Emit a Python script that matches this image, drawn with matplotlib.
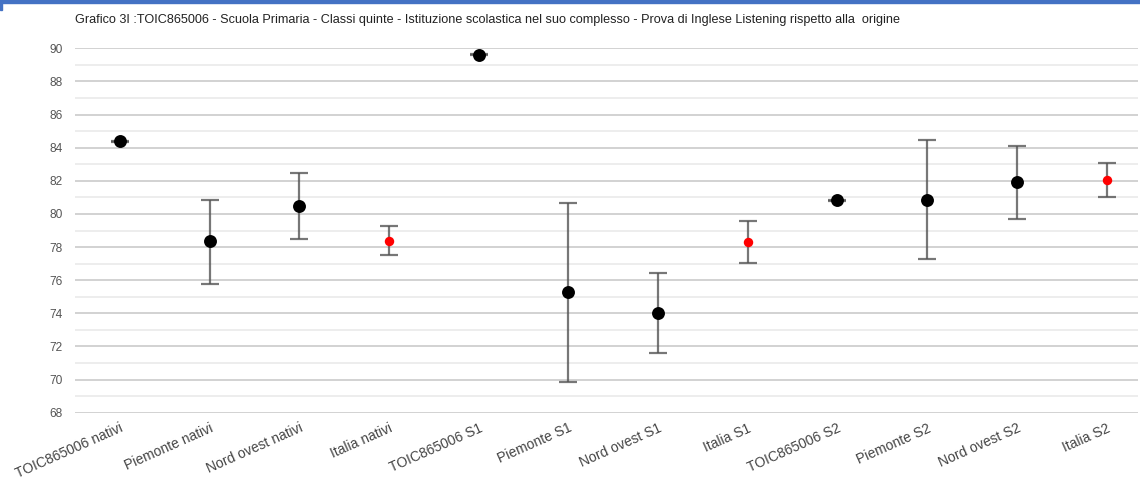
import matplotlib
matplotlib.use("Agg")
import matplotlib.pyplot as plt
from matplotlib.patches import Rectangle
from matplotlib.ticker import MultipleLocator

categories = ["TOIC865006 nativi", "Piemonte nativi", "Nord ovest nativi", "Italia nativi",
              "TOIC865006 S1", "Piemonte S1", "Nord ovest S1", "Italia S1",
              "TOIC865006 S2", "Piemonte S2", "Nord ovest S2", "Italia S2"]
means = [84.4, 78.36, 80.49, 78.34, 89.6, 75.28, 74.0, 78.32, 80.83, 80.86, 81.9, 82.02]
upper = [84.43, 80.87, 82.49, 79.25, 89.63, 80.68, 76.45, 79.59, 80.86, 84.44, 84.1, 83.09]
lower = [84.37, 75.78, 78.50, 77.52, 89.57, 69.88, 71.59, 77.05, 80.80, 77.25, 79.69, 81.0]
highlight = [False, False, False, True, False, False, False, True, False, False, False, True]

title = ("Grafico 3I :TOIC865006 - Scuola Primaria - Classi quinte - Istituzione scolastica "
         "nel suo complesso - Prova di Inglese Listening rispetto alla  origine")

plt.rcParams['font.family'] = ['Liberation Sans', 'DejaVu Sans']

W, H = 1140, 492
fig = plt.figure(figsize=(W / 100, H / 100), dpi=100)
ax = fig.add_axes([75 / W, 1 - 412.7 / H, (1138 - 75) / W, (412.7 - 48.3) / H])

x = list(range(len(categories)))
for i in x:
    ax.errorbar(i, means[i], yerr=[[means[i] - lower[i]], [upper[i] - means[i]]],
                fmt='none', ecolor='#555555', alpha=0.8, elinewidth=1.6,
                capsize=6.5, capthick=1.6, zorder=3)
    if highlight[i]:
        ax.plot(i, means[i], 'o', color='#ff0000', markersize=6.8,
                markeredgewidth=0, zorder=4)
    else:
        ax.plot(i, means[i], 'o', color='black', markersize=9.3,
                markeredgewidth=0, zorder=4)

ax.set_ylim(68, 90)
ax.set_xlim(-0.5, 11.35)
ax.yaxis.set_major_locator(MultipleLocator(2))
ax.yaxis.set_minor_locator(MultipleLocator(1))
ax.grid(axis='y', which='major', color='#cfcfcf', linewidth=1.3)
ax.grid(axis='y', which='minor', color='#ececec', linewidth=1.3)
ax.set_axisbelow(True)
for s in ax.spines.values():
    s.set_visible(False)
ax.tick_params(axis='both', which='both', length=0)
ax.tick_params(axis='y', labelsize=8.6, labelcolor='#555555', pad=9)
ax.set_xticks(x)
ax.set_xticklabels(categories, rotation=24, ha='right', rotation_mode='anchor',
                   fontsize=10, color='#444444')
ax.tick_params(axis='x', pad=6)

fig.text(75 / W, 1 - 20 / H, title, fontsize=9.1, color='#222222', ha='left', va='center')

fig.patches.append(Rectangle((0, 1 - 3 / H), 1, 3 / H, transform=fig.transFigure,
                             color='#4472c4', zorder=10))
fig.patches.append(Rectangle((0, 1 - 10 / H), 2 / W, 10 / H, transform=fig.transFigure,
                             color='#4472c4', zorder=10))

fig.savefig("out.png", dpi=100)
